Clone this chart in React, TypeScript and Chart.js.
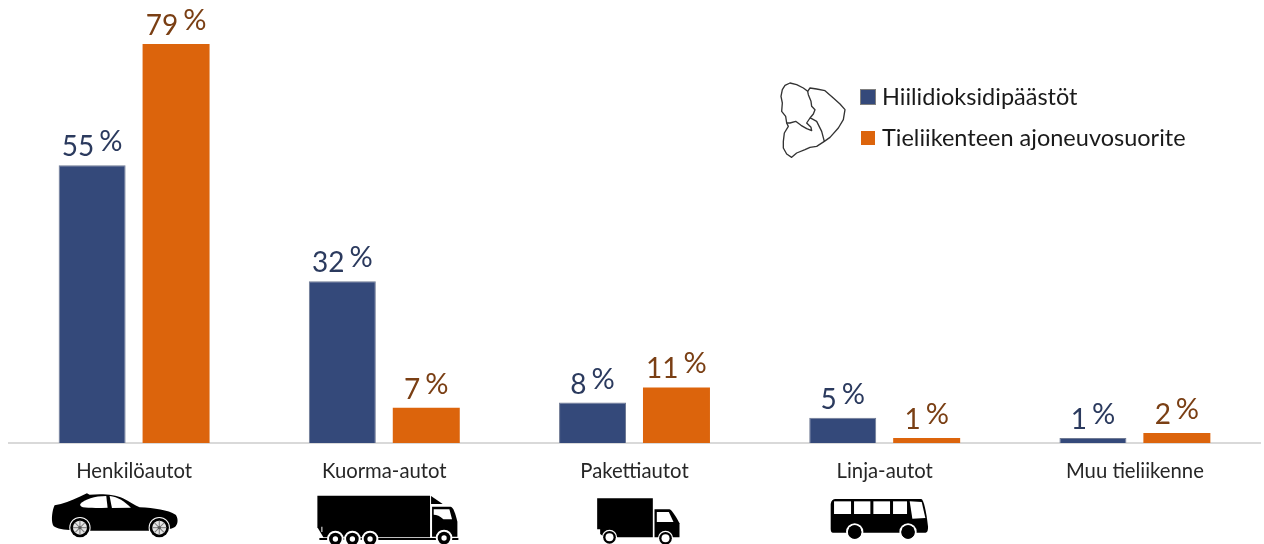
import { useEffect, useRef } from "react";
import { Chart, registerables } from "chart.js";

Chart.register(...registerables);

const categories = ["Henkilöautot", "Kuorma-autot", "Pakettiautot", "Linja-autot", "Muu tieliikenne"];
const emissions = [55, 32, 8, 5, 1];
const mileage = [79, 7, 11, 1, 2];
const seriesNames = ["Hiilidioksidipäästöt", "Tieliikenteen ajoneuvosuorite"];

const BLUE = "#34497a";
const ORANGE = "#dc640c";
const BLUE_TEXT = "#2b3a5e";
const ORANGE_TEXT = "#7a3f14";
const FONT = "Lato, sans-serif";

// Vehicle pictograms, in a local grid three times finer than a canvas pixel.
type Shape = { d: string; fill: string };

const disc = (x: number, y: number, r: number, fill: string): Shape => ({
  d: `M${x - r} ${y}a${r} ${r} 0 1 0 ${2 * r} 0a${r} ${r} 0 1 0 ${-2 * r} 0Z`,
  fill,
});

const wheel = (x: number, y: number, r: number, hubR: number, hub: string, ring = 6): Shape[] => [
  disc(x, y, r + ring, "#fff"),
  disc(x, y, r, "#000"),
  disc(x, y, hubR, hub),
];

// Alloy wheel with thin spokes across the hub.
const alloy = (x: number, y: number): Shape[] => [
  ...wheel(x, y, 29, 21, "#e4e4e4", 3),
  { d: `M${x - 21} ${y - 1.5}h42v3h-42Z`, fill: "#777" },
  { d: `M${x - 1.5} ${y - 21}h3v42h-3Z`, fill: "#777" },
  { d: `M${x - 15} ${y - 13}L${x - 13} ${y - 15}L${x + 15} ${y + 13}L${x + 13} ${y + 15}Z`, fill: "#777" },
  { d: `M${x + 15} ${y - 13}L${x + 13} ${y - 15}L${x - 15} ${y + 13}L${x - 13} ${y + 15}Z`, fill: "#777" },
  disc(x, y, 5, "#555"),
];

const car: Shape[] = [
  {
    d: "M75 226C100 222 125 212 150 200L172 190L180 194C215 191 255 192 280 205C300 215 315 226 330 232C375 234 415 240 438 254C445 262 446 278 440 286C436 294 425 296 415 298L360 302L180 302L120 300C95 298 75 295 70 285C64 270 68 240 75 226Z",
    fill: "#000",
  },
  { d: "M152 222C165 208 195 198 230 198L234 233C205 234 175 234 160 232C155 230 150 226 152 222Z", fill: "#fff" },
  { d: "M240 198C265 200 285 215 304 233L247 234Z", fill: "#fff" },
  ...alloy(151, 293),
  ...alloy(389, 293),
];

const truck: Shape[] = [
  { d: "M862 197L1200 197L1200 322L880 322L862 292Z", fill: "#000" },
  { d: "M1203 198L1238 222L1203 222Z", fill: "#000" },
  {
    d: "M1206 230L1262 230C1270 232 1276 250 1282 275L1282 320L1206 320Z",
    fill: "#000",
  },
  { d: "M1211 238L1258 238L1266 268L1240 268C1230 258 1220 254 1211 254Z", fill: "#fff" },
  { d: "M874 290h3v16h-3Z", fill: "#fff" },
  { d: "M868 324L1285 324L1285 330L868 330Z", fill: "#000" },
  ...wheel(916, 327, 19, 8, "#fff"),
  ...wheel(967, 327, 19, 8, "#fff"),
  ...wheel(1020, 327, 19, 8, "#fff"),
  ...wheel(1242, 324, 19, 8, "#fff"),
];

const van: Shape[] = [
  { d: "M113 205L280 205L280 322L135 322L122 312L122 298L113 298Z", fill: "#000" },
  { d: "M285 238L330 238C338 240 352 265 360 280L360 322L285 322Z", fill: "#000" },
  { d: "M292 246L328 246L342 276L292 276Z", fill: "#fff" },
  ...wheel(150, 322, 19, 12, "#fff", 4),
  ...wheel(318, 325, 19, 12, "#fff", 4),
];

const bus: Shape[] = [
  {
    d: "M828 207L1085 207C1092 209 1100 245 1105 290C1105 304 1102 308 1095 308L820 308C815 308 813 304 813 296L813 222C814 212 820 207 828 207Z",
    fill: "#000",
  },
  { d: "M823 214L874 214L874 252L823 252Z", fill: "#fff" },
  { d: "M883 214L932 214L932 252L883 252Z", fill: "#fff" },
  { d: "M941 214L991 214L991 252L941 252Z", fill: "#fff" },
  { d: "M1000 214L1042 214L1042 252L1000 252Z", fill: "#fff" },
  { d: "M1050 214L1086 216L1097 264L1058 266Z", fill: "#fff" },
  ...wheel(885, 306, 20, 20, "#000"),
  ...wheel(1045, 306, 20, 20, "#000"),
];

// Icon placement: [shapes, x of the grid origin relative to the group centre].
const icons: ([Shape[], number] | null)[] = [
  [car, -104.5],
  [truck, -354.25],
  [van, -75],
  [bus, -325],
  null,
];

const regionOutlines = [
  "M22 35L30 22L45 15L65 20L85 30L98 40L100 50L108 70L110 85L120 95L115 108L105 120L95 135L108 148L110 158L95 152L78 142L62 130L45 135L35 135L32 115L20 100L22 75L18 55Z",
  "M98 40L105 30L125 33L150 38L175 60L195 78L210 95L205 125L190 150L165 178L148 190L140 160L125 130L110 122L105 120",
  "M35 135L40 145L28 165L25 190L25 210L35 228L50 238L65 225L90 215L105 208L125 205L148 190",
];

const overlay = {
  id: "overlay",
  afterDatasetsDraw(chart: Chart) {
    const { ctx, scales } = chart;
    ctx.save();

    // Value labels: the number, then a slightly raised percent sign.
    const gap = 5;
    chart.data.datasets.forEach((ds, di) => {
      chart.getDatasetMeta(di).data.forEach((bar, i) => {
        const num = String(ds.data[i]);
        ctx.fillStyle = di === 0 ? BLUE_TEXT : ORANGE_TEXT;
        ctx.font = `400 28px ${FONT}`;
        const numW = ctx.measureText(num).width;
        ctx.font = `400 29px ${FONT}`;
        const pctW = ctx.measureText("%").width;
        const left = bar.x - (numW + gap + pctW) / 2;
        ctx.textAlign = "left";
        ctx.textBaseline = "alphabetic";
        ctx.font = `400 28px ${FONT}`;
        ctx.fillText(num, left, bar.y - 9);
        ctx.font = `400 29px ${FONT}`;
        ctx.fillText("%", left + numW + gap, bar.y - 14);
      });
    });

    // Legend with the region map beside it.
    ctx.font = `400 23.5px ${FONT}`;
    ctx.textAlign = "left";
    ctx.textBaseline = "alphabetic";
    seriesNames.forEach((name, i) => {
      const y = i === 0 ? 90 : 131;
      ctx.fillStyle = i === 0 ? BLUE : ORANGE;
      ctx.fillRect(861, y, 14, 14);
      if (i === 0) {
        ctx.strokeStyle = "#7f7f7f";
        ctx.lineWidth = 1;
        ctx.strokeRect(860.5, y - 0.5, 15, 15);
      }
      ctx.fillStyle = "#1a1a1a";
      ctx.fillText(name, 882, y + 15);
    });

    ctx.save();
    ctx.translate(775, 78);
    ctx.scale(1 / 3, 1 / 3);
    ctx.strokeStyle = "#333";
    ctx.lineWidth = 4;
    ctx.lineJoin = "round";
    regionOutlines.forEach((d) => ctx.stroke(new Path2D(d)));
    ctx.restore();

    // Pictograms under the category labels.
    const xScale = scales.x;
    icons.forEach((icon, i) => {
      if (!icon) return;
      ctx.save();
      ctx.translate(xScale.getPixelForValue(i) + icon[1], 430);
      ctx.scale(1 / 3, 1 / 3);
      icon[0].forEach((s) => {
        ctx.fillStyle = s.fill;
        ctx.fill(new Path2D(s.d));
      });
      ctx.restore();
    });
    ctx.restore();
  },
};

export default function App() {
  const ref = useRef<HTMLCanvasElement>(null);
  useEffect(() => {
    const chart = new Chart(ref.current!, {
      type: "bar",
      data: {
        labels: categories,
        datasets: [
          { label: seriesNames[0], data: emissions, backgroundColor: BLUE, borderColor: "#6f7a94", borderWidth: 1 },
          { label: seriesNames[1], data: mileage, backgroundColor: ORANGE, borderWidth: 0 },
        ],
      },
      options: {
        responsive: false,
        animation: false,
        categoryPercentage: 0.671,
        barPercentage: 0.798,
        layout: { padding: { left: 9, right: 4, top: 0, bottom: 0 } },
        scales: {
          x: {
            grid: { display: false, drawTicks: false },
            border: { display: true, color: "#d9d9d9", width: 2 },
            ticks: {
              padding: 16,
              color: "#262626",
              font: { family: FONT, size: 20.3 },
              maxRotation: 0,
              autoSkip: false,
            },
            afterFit(scale) {
              scale.height = 101;
            },
          },
          y: { display: false, min: 0, max: 87.7 },
        },
        plugins: { legend: { display: false }, tooltip: { enabled: false } },
      },
      plugins: [overlay],
    } as any);
    return () => chart.destroy();
  }, []);
  return (
    <canvas
      ref={ref}
      width={1264}
      height={544}
      style={{ position: "fixed", left: 0, top: 0, width: 1264, height: 544, display: "block" }}
    />
  );
}
